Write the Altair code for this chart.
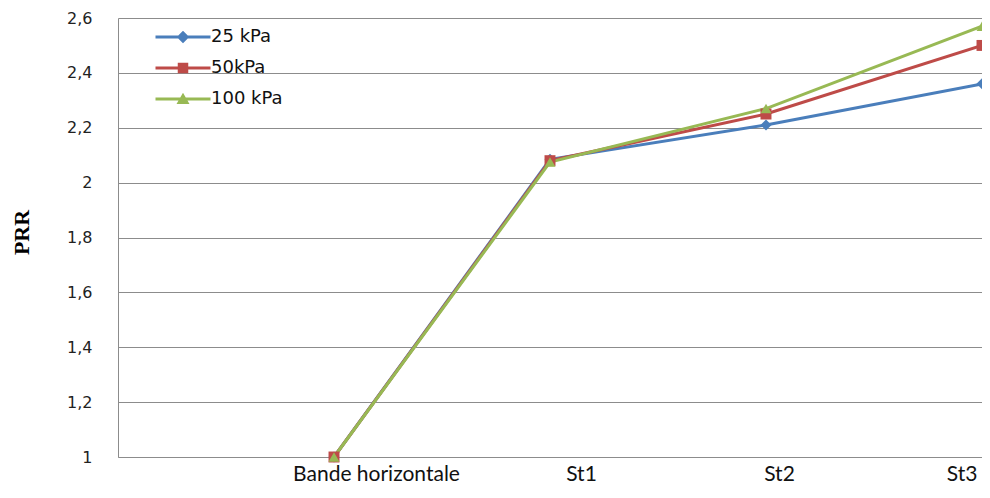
import altair as alt
import pandas as pd

# ---- data ----
slots = ["", "Bande horizontale", "St1", "St2", "St3"]
categories = ["Bande horizontale", "St1", "St2", "St3"]
series_names = ["25 kPa", "50kPa", "100 kPa"]
prr_25 = [1.0, 2.085, 2.21, 2.36]
prr_50 = [1.0, 2.08, 2.25, 2.50]
prr_100 = [1.0, 2.075, 2.27, 2.57]
colors = ["#4A7EBB", "#BE4B48", "#98B954"]
y_ticks = [1.0, 1.2, 1.4, 1.6, 1.8, 2.0, 2.2, 2.4, 2.6]
marker_shapes = ["diamond", "square", "triangle-up"]
legend_shapes = [
    "M-5.5,-0.3H5.5V0.3H-5.5Z M0,-1.25L1.25,0L0,1.25L-1.25,0Z",
    "M-5.5,-0.3H5.5V0.3H-5.5Z M-1.05,-1.05H1.05V1.05H-1.05Z",
    "M-5.5,-0.3H5.5V0.3H-5.5Z M0,-1.25L1.3,1L-1.3,1Z",
]

rows = []
for name, vals in zip(series_names, [prr_25, prr_50, prr_100]):
    for i, (c, v) in enumerate(zip(categories, vals)):
        rows.append({"serie": name, "cat": c, "PRR": v, "ordre": i})
df = pd.DataFrame(rows)

grey = "#8C8C8C"

x_enc = alt.X(
    "cat:N",
    sort=slots,
    scale=alt.Scale(type="point", domain=slots, padding=0),
    axis=alt.Axis(
        title=None, ticks=False, grid=False, domainColor=grey, domainWidth=1,
        labelAngle=0, labelFont="Lato", labelFontSize=21, labelColor="#111111",
        labelPadding=6, labelFlush=True,
        labelOffset={
            "condition": [
                {"test": "datum.label == 'Bande horizontale'", "value": 42},
                {"test": "datum.label == 'St1'", "value": 31},
                {"test": "datum.label == 'St2'", "value": 13},
            ],
            "value": -5,
        },
    ),
)
y_enc = alt.Y(
    "PRR:Q",
    scale=alt.Scale(domain=[1, 2.6], nice=False, zero=False),
    axis=alt.Axis(
        values=y_ticks, title="PRR", titleFont="Liberation Serif", titleFontSize=22,
        titleFontWeight="bold", titleColor="#000000", titleX=-85, titleY=214,
        labelExpr="replace(format(datum.value, '~g'), '.', ',')",
        labelFont="DejaVu Sans", labelFontSize=16, labelColor="#222222",
        labelPadding=26, ticks=False, domainColor=grey, gridColor=grey, gridWidth=1,
    ),
)

color_scale = alt.Scale(domain=series_names, range=colors)

lines = alt.Chart(df).mark_line(strokeWidth=3).encode(
    x=x_enc, y=y_enc,
    color=alt.Color("serie:N", scale=color_scale, legend=None),
    order="ordre:Q",
)

points = alt.Chart(df).mark_point(filled=True, size=120, opacity=1).encode(
    x=x_enc, y=y_enc,
    color=alt.Color("serie:N", scale=color_scale, legend=None),
    shape=alt.Shape("serie:N", scale=alt.Scale(domain=series_names, range=marker_shapes), legend=None),
)

leg = alt.Legend(
    orient="none", legendX=56, legendY=10, title=None, symbolSize=100,
    labelFont="DejaVu Sans", labelFontSize=18, labelColor="#111111",
    labelOffset=19, rowPadding=12, symbolOpacity=1, padding=0,
)

legend_layer = alt.Chart(df).mark_point(filled=True, size=100, opacity=0).encode(
    x=x_enc, y=y_enc,
    color=alt.Color("serie:N", scale=color_scale, legend=leg),
    shape=alt.Shape("serie:N", scale=alt.Scale(domain=series_names, range=legend_shapes), legend=leg),
)

chart = (
    alt.layer(lines, points, legend_layer)
    .resolve_scale(color="independent", shape="independent")
    .properties(
        width=864, height=439,
        padding={"left": 110, "top": 10, "right": 0, "bottom": 29},
        autosize=alt.AutoSizeParams(type="none"),
        background="white",
    )
    .configure_view(stroke="transparent")
)

chart.save("out.html", embed_options={"renderer": "svg", "actions": False})
